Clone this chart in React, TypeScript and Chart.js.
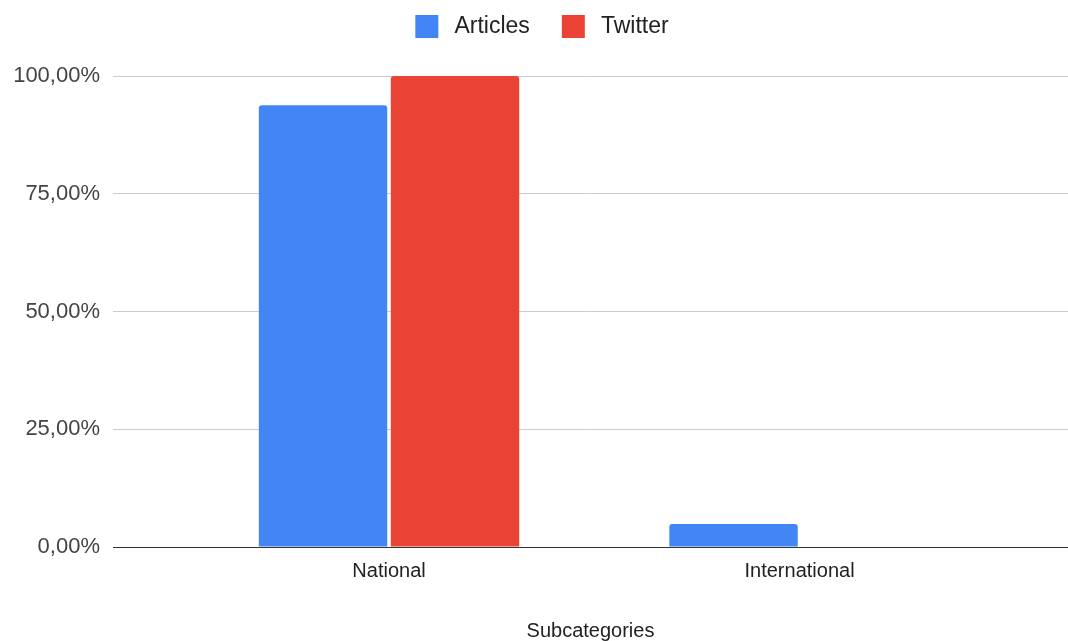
import React, { useEffect, useRef } from "react";
import { Chart, registerables } from "chart.js";

Chart.register(...registerables);

// Share of items per subcategory, in percent
const categories = ["National", "International"];
const articlesValues = [93.8, 4.9];
const twitterValues = [100, 0];
const yTickValues = [0, 25, 50, 75, 100];

const seriesNames = ["Articles", "Twitter"];
const seriesColors = ["#4285F4", "#EA4335"];

const FONT = "'Liberation Sans', Arial, Helvetica, sans-serif";

const formatPercent = (v: number) => v.toFixed(2).replace(".", ",") + "%";

// Leaves extra room between the legend row and the plot area,
// and nudges the legend row a little to the right
const legendSpacing = {
  id: "legendSpacing",
  beforeInit(chart: any) {
    const legend = chart.legend;
    if (!legend) return;
    const originalFit = legend.fit;
    legend.fit = function fit() {
      originalFit.call(this);
      this.height += 28;
    };
  },
  afterLayout(chart: any) {
    const legend = chart.legend;
    if (!legend) return;
    legend.left += 8;
    legend.right += 8;
  },
};

export default function App() {
  const canvasRef = useRef<HTMLCanvasElement | null>(null);

  useEffect(() => {
    if (!canvasRef.current) return;
    const toPoints = (vals: number[]) => vals.map((y, i) => ({ x: i, y }));

    const barStyle = {
      borderRadius: 3,
      categoryPercentage: 0.643,
      barPercentage: 0.973,
    };

    const chart = new Chart(canvasRef.current, {
      type: "bar",
      data: {
        datasets: [
          {
            label: seriesNames[0],
            data: toPoints(articlesValues),
            backgroundColor: seriesColors[0],
            ...barStyle,
          },
          {
            label: seriesNames[1],
            data: toPoints(twitterValues),
            backgroundColor: seriesColors[1],
            ...barStyle,
          },
        ],
      },
      plugins: [legendSpacing],
      options: {
        responsive: false,
        animation: false,
        layout: { padding: { top: -17, right: 0, left: 0, bottom: 0 } },
        plugins: {
          tooltip: { enabled: false },
          legend: {
            position: "top",
            labels: {
              boxWidth: 23,
              boxHeight: 23,
              padding: 32,
              color: "#222",
              font: { family: FONT, size: 23 },
              generateLabels: (ch: any) =>
                Chart.defaults.plugins.legend.labels
                  .generateLabels(ch)
                  .map((item: any) => ({ ...item, text: "\u2009" + item.text })),
            },
          },
        },
        scales: {
          x: {
            type: "linear",
            offset: false,
            bounds: "data",
            min: -0.6724,
            max: 1.654,
            grid: { display: false, drawTicks: false, offset: false },
            border: { display: true, color: "#333", width: 1 },
            afterBuildTicks: (scale: any) => {
              scale.ticks = categories.map((_, i) => ({ value: i }));
            },
            ticks: {
              padding: 12,
              color: "#222",
              font: { family: FONT, size: 20 },
              callback: (v: any) => categories[v] ?? "",
            },
            title: {
              display: true,
              text: "Subcategories",
              color: "#222",
              font: { family: FONT, size: 20, lineHeight: 1 },
              padding: { top: 26, bottom: 0 },
            },
          },
          y: {
            min: 0,
            max: 100,
            afterFit: (scale: any) => {
              scale.width = 113;
            },
            afterBuildTicks: (scale: any) => {
              scale.ticks = yTickValues.map((value) => ({ value }));
            },
            grid: {
              drawTicks: false,
              color: (ctx: any) => (ctx.tick && ctx.tick.value === 0 ? "#333" : "#ccc"),
            },
            border: { display: false },
            ticks: {
              padding: 13,
              color: "#444",
              font: { family: FONT, size: 22 },
              callback: (v: any) => formatPercent(Number(v)),
            },
          },
        },
      },
    });

    return () => chart.destroy();
  }, []);

  return (
    <div style={{ position: "absolute", left: 0, top: 0, width: 1068, height: 641, background: "#fff" }}>
      <canvas ref={canvasRef} width={1068} height={641} />
    </div>
  );
}
